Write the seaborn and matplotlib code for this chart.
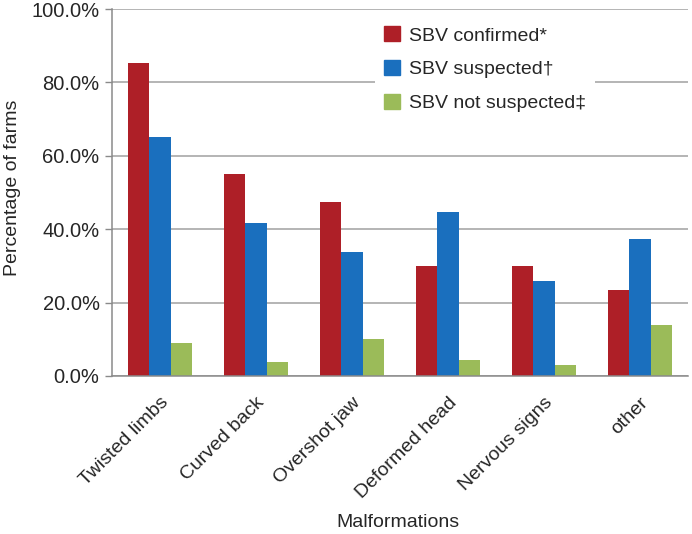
import numpy as np
import pandas as pd
from matplotlib import pyplot as plt
from matplotlib.ticker import FuncFormatter, FixedLocator
import seaborn as sns

malformations = ['Twisted limbs', 'Curved back', 'Overshot jaw',
                 'Deformed head', 'Nervous signs', 'other']
groups = ['SBV confirmed*', 'SBV suspected\u2020', 'SBV not suspected\u2021']
confirmed = [85.3, 55.1, 47.3, 30.1, 30.1, 23.5]
suspected = [65.0, 41.8, 33.8, 44.6, 26.0, 37.3]
not_suspected = [9.0, 3.7, 10.1, 4.3, 2.9, 14.0]
colors = ['#AE1F27', '#1A6FBE', '#9BBB59']

df = pd.DataFrame({
    'Malformations': malformations * 3,
    'value': confirmed + suspected + not_suspected,
    'group': np.repeat(groups, len(malformations)),
})

sns.set_style('white')
plt.rcParams['font.family'] = ['Liberation Sans', 'DejaVu Sans']
plt.rcParams['font.size'] = 14

fig = plt.figure(figsize=(6.92, 5.34), dpi=100)
ax = fig.add_axes([0.162, 0.296, 0.832, 0.687])

sns.barplot(
    data=df, x='Malformations', y='value', hue='group',
    palette=colors, saturation=1, width=0.67, linewidth=0, ax=ax, legend=False
)

ax.set_ylim(0, 100)
ax.set_xlim(-0.5, len(malformations) - 0.5)
ax.set_yticks(np.arange(0, 101, 20))
ax.yaxis.set_major_formatter(FuncFormatter(lambda v, p: '%.1f%%' % v))
ax.grid(axis='y', color='#a0a0a0', lw=1.1)
ax.set_axisbelow(True)

ax.set_xticks(np.arange(len(malformations)))
ax.set_xticklabels(malformations, rotation=45, ha='right',
                   rotation_mode='anchor')
ax.xaxis.set_minor_locator(FixedLocator(np.arange(-0.5, len(malformations), 1)))
ax.tick_params(axis='x', which='major', length=0, pad=13, labelsize=14)
ax.tick_params(axis='x', which='minor', length=5, color='#8a8a8a', width=1)
ax.tick_params(axis='y', length=5, color='#8a8a8a', width=1, labelsize=14.5,
               left=True, pad=4)
for s in ['top', 'right']:
    ax.spines[s].set_visible(False)
for s in ['left', 'bottom']:
    ax.spines[s].set_color('#8a8a8a')
    ax.spines[s].set_linewidth(1.1)

ax.set_xlabel('Malformations', fontsize=14)
ax.xaxis.set_label_coords(0.497, -0.375)
ax.set_ylabel('')
fig.text(13 / 692, 1 - 188 / 534, 'Percentage of farms', fontsize=14,
         rotation=90, ha='center', va='center')

handles = [plt.Rectangle((0, 0), 1, 1, color=c) for c in colors]
leg = fig.legend(
    handles, groups, loc='upper left', bbox_to_anchor=(365 / 692, 1 - 7 / 534),
    fontsize=14, handlelength=0.8, handleheight=0.8, handletextpad=0.45,
    labelspacing=0.8, frameon=True, facecolor='white', edgecolor='none',
    framealpha=1, borderpad=0.5
)

fig.savefig('out.png', dpi=100)
